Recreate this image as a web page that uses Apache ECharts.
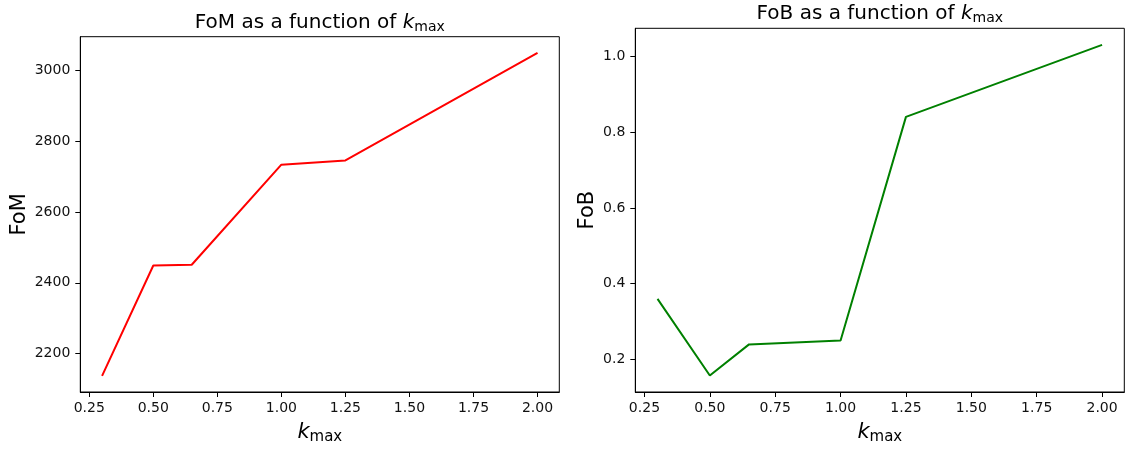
<!DOCTYPE html>
<html>
<head>
<meta charset="utf-8">
<title>FoM and FoB vs k_max</title>
<script src="https://cdn.jsdelivr.net/npm/echarts@6/dist/echarts.min.js"></script>
<style>
  html, body { margin: 0; padding: 0; background: #fff; }
  #chart { width: 1127px; height: 450px; }
</style>
</head>
<body>
<div id="chart"></div>
<script>
// k_max values shared by both panels
const kmax = [0.3, 0.5, 0.65, 1.0, 1.25, 2.0];
// figure of merit
const fom = [2137, 2449, 2451, 2734, 2746, 3050];
// figure of bias
const fob = [0.36, 0.158, 0.24, 0.25, 0.84, 1.03];

// tick labels
const xTicks = [0.25, 0.5, 0.75, 1.0, 1.25, 1.5, 1.75, 2.0];
const fomTicks = [2200, 2400, 2600, 2800, 3000];
const fobTicks = [0.2, 0.4, 0.6, 0.8, 1.0];

const FONT = 'DejaVu Sans';
const INK = '#000';
const TICK_FS = 14;

// 5% autoscale margin on each side of the data range
function padded(vals) {
  const lo = Math.min(...vals), hi = Math.max(...vals);
  const m = (hi - lo) * 0.05;
  return [lo - m, hi + m];
}

const xr = padded(kmax), fomR = padded(fom), fobR = padded(fob);

// plain text, italic k and an upright "max" subscript
const mathRich = (size, subSize, lh, subLh) => ({
  t: { fontFamily: FONT, fontSize: size, fontWeight: 'normal', color: INK, lineHeight: lh },
  k: { fontFamily: FONT, fontSize: size, fontWeight: 'normal', fontStyle: 'italic', color: INK, lineHeight: lh },
  s: { fontFamily: FONT, fontSize: subSize, fontWeight: 'normal', color: INK, lineHeight: subLh, verticalAlign: 'bottom' }
});

function xAxisFor(gridIndex) {
  return {
    type: 'value', gridIndex, min: xr[0], max: xr[1],
    name: '{k|k}{s|max}', nameLocation: 'middle', nameGap: 29,
    nameTextStyle: { rich: mathRich(21, 15, 24, 15) },
    axisLine: { show: true, onZero: false, lineStyle: { color: INK, width: 1 } },
    axisTick: { show: true, length: 5, lineStyle: { color: INK }, customValues: xTicks },
    axisLabel: {
      customValues: xTicks, margin: 9, fontFamily: FONT, fontSize: TICK_FS, color: '#111',
      formatter: v => v.toFixed(2)
    },
    splitLine: { show: false }
  };
}

function yAxisFor(gridIndex, range, ticks, name, gap, fmt) {
  return {
    type: 'value', gridIndex, min: range[0], max: range[1],
    name, nameLocation: 'middle', nameGap: gap, nameRotate: 90,
    nameTextStyle: { fontFamily: FONT, fontSize: 21, color: INK },
    axisLine: { show: true, onZero: false, lineStyle: { color: INK, width: 1 } },
    axisTick: { show: true, length: 5, lineStyle: { color: INK }, customValues: ticks },
    axisLabel: {
      customValues: ticks, margin: 10, fontFamily: FONT, fontSize: TICK_FS, color: '#111',
      formatter: fmt
    },
    splitLine: { show: false }
  };
}

const chart = echarts.init(document.getElementById('chart'), null, { renderer: 'canvas' });

chart.setOption({
  backgroundColor: '#fff',
  animation: false,
  title: [
    {
      text: '{t|FoM as a function of }{k|k}{s|max}',
      left: 319.8, top: 10.6, textAlign: 'center', padding: 0,
      textStyle: { fontWeight: 'normal', rich: mathRich(20, 14, 24, 15) }
    },
    {
      text: '{t|FoB as a function of }{k|k}{s|max}',
      left: 879.8, top: 1.7, textAlign: 'center', padding: 0,
      textStyle: { fontWeight: 'normal', rich: mathRich(20, 14, 24, 15) }
    }
  ],
  grid: [
    { left: 80.3, top: 36.7, width: 479, height: 356.6, show: true, borderColor: INK, borderWidth: 1, backgroundColor: 'transparent' },
    { left: 635.3, top: 28.3, width: 489, height: 364.4, show: true, borderColor: INK, borderWidth: 1, backgroundColor: 'transparent' }
  ],
  xAxis: [xAxisFor(0), xAxisFor(1)],
  yAxis: [
    yAxisFor(0, fomR, fomTicks, 'FoM', 50.5, v => String(Math.round(v))),
    yAxisFor(1, fobR, fobTicks, 'FoB', 37, v => v.toFixed(1))
  ],
  series: [
    {
      type: 'line', xAxisIndex: 0, yAxisIndex: 0,
      data: kmax.map((k, i) => [k, fom[i]]),
      showSymbol: false, symbol: 'none',
      lineStyle: { color: '#ff0000', width: 2 }
    },
    {
      type: 'line', xAxisIndex: 1, yAxisIndex: 1,
      data: kmax.map((k, i) => [k, fob[i]]),
      showSymbol: false, symbol: 'none',
      lineStyle: { color: '#008000', width: 2 }
    }
  ]
});
</script>
</body>
</html>
